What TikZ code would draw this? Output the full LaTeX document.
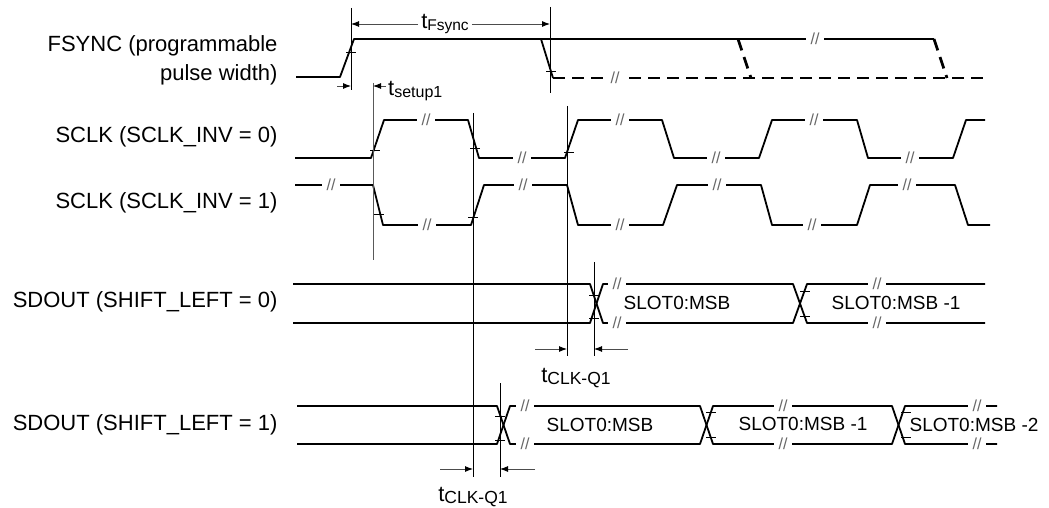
\documentclass[tikz,border=0pt]{standalone}
\usepackage{fontspec}
\setmainfont{Liberation Sans}
\usetikzlibrary{arrows.meta}
\newcommand{\tsub}[2]{t\raisebox{-2pt}{\fontsize{#1}{#1}\selectfont #2}}

\begin{document}
\begin{tikzpicture}[x=1pt,y=-1pt,line join=round,
	font=\fontsize{22}{29}\selectfont,
	sig/.style={line width=1.8pt},
	fut/.style={line width=2.8pt,dash pattern=on 12pt off 7pt},
	guide/.style={line width=0.9pt},
	thr/.style={line width=0.8pt},
	brk/.style={fill=white,inner xsep=5pt,inner ysep=0pt,text=gray!80!black,font=\fontsize{16}{16}\selectfont},
	dim/.style={line width=0.9pt,draw=gray!60!black,-{Latex[length=8pt,width=6pt,black]}},
	slot/.style={font=\fontsize{19}{19}\selectfont}]
	\useasboundingbox (0,0) rectangle (1049,508);
	\node at(281,60) [anchor=east,align=right] (fs) {FSYNC (programmable\\pulse width)};
	\node at(281,137) [anchor=east] (sc0) {SCLK (SCLK\_INV = 0)};
	\node at(281,203) [anchor=east] (sc1) {SCLK (SCLK\_INV = 1)};
	\node at(281,302) [anchor=east] (sd0) {SDOUT (SHIFT\_LEFT = 0)};
	\node at(281,425) [anchor=east] (sd1) {SDOUT (SHIFT\_LEFT = 1)};
	\draw [sig](296,77)--(340,77)--(354,39)--(934,39);
	\draw [sig](541,39)--(553,78);
	\draw [fut](553,78)--(983,78);
	\draw [fut](738,39)--(751,78);
	\draw [fut](934,39)--(947,78);
	\draw [sig](295,158)--(371,158)--(384,120)--(468,120)--(479,158)--(565,158)--(578,120)--(662,120)--(674,158)--(759,158)--(772,120)--(857,120)--(868,158)--(953,158)--(966,120)--(985,120);
	\draw [sig](295,185)--(373,185)--(383,225)--(471,225)--(484,185)--(567,185)--(578,225)--(663,225)--(677,185)--(761,185)--(772,225)--(857,225)--(870,185)--(955,185)--(968,225)--(990,225);
	\draw [sig](293,284)--(590,284)--(603,323)--(793,323)--(807,284)--(985,284);
	\draw [sig](293,323)--(590,323)--(603,284)--(793,284)--(807,323)--(985,323);
	\draw [sig](297,406)--(497,406)--(510,444)--(700,444)--(713,406)--(892,406)--(905,444)--(997,444);
	\draw [sig](297,444)--(497,444)--(510,406)--(700,406)--(713,444)--(892,444)--(905,406)--(997,406);
	\foreach \x/\y [count=\i] in {815/39,615/78,426/120,620/120,814/120,522/158,716/158,910/158,
		331/185,523/185,717/185,907/185,427/225,620/225,812/225,
		617/284,617/323,877/284,877/323,525/406,525/444,783/406,783/444,977/406,977/444}
		\node [brk] (b\i) at(\x,\y) {//};
	\foreach \x/\y in {351/52,551/71,375/150,379/214,475/148,473/217,569/152,
		594/295,594/318,805/291,805/316,500/416,500/440,711/412,711/437,906/412,906/437}
		\draw [thr]({\x-5},\y)--({\x+5},\y);
	\coordinate (v1) at(351,8);
	\coordinate (v2) at(550,7);
	\coordinate (v3) at(373,83);
	\coordinate (v4) at(473,113);
	\coordinate (v5) at(567,106);
	\coordinate (v6) at(594,262);
	\coordinate (v7) at(500,383);
	\draw [guide](v1)--++(0,82);
	\draw [guide](v2)--++(0,86);
	\draw [guide,gray!70!black](v3)--++(0,177);
	\draw [guide](v4)--++(0,364);
	\draw [guide](v5)--++(0,250);
	\draw [guide](v6)--++(0,94);
	\draw [guide](v7)--++(0,94);
	\node at(445,24) [inner xsep=3pt] (tfs) {\tsub{15.5}{Fsync}};
	\draw [dim](tfs.west)--(tfs.west -| v1);
	\draw [dim](tfs.east)--(tfs.east -| v2);
	\node at(388,91) [anchor=west,inner sep=0pt] (tsu) {\tsub{16}{setup1}};
	\draw [dim](337,86)--(v1 |- 0,86);
	\draw [dim](386,86)--(v3 |- 0,86);
	\node at(576,378) (tcq0) {\tsub{17.5}{CLK-Q1}};
	\draw [dim](535,349)--(v5 |- 0,349);
	\draw [dim](628,349)--(v6 |- 0,349);
	\node at(473,497) (tcq1) {\tsub{17.5}{CLK-Q1}};
	\draw [dim](440,469)--(v4 |- 0,469);
	\draw [dim](535,469)--(v7 |- 0,469);
	\node [slot] (s0a) at(677,303) {SLOT0:MSB};
	\node [slot] (s0b) at(896,303) {SLOT0:MSB -1};
	\node [slot] (s1a) at(600,425) {SLOT0:MSB};
	\node [slot] (s1b) at(803,424) {SLOT0:MSB -1};
	\node [slot] (s1c) at(974,425) {SLOT0:MSB -2};
\end{tikzpicture}
\end{document}
